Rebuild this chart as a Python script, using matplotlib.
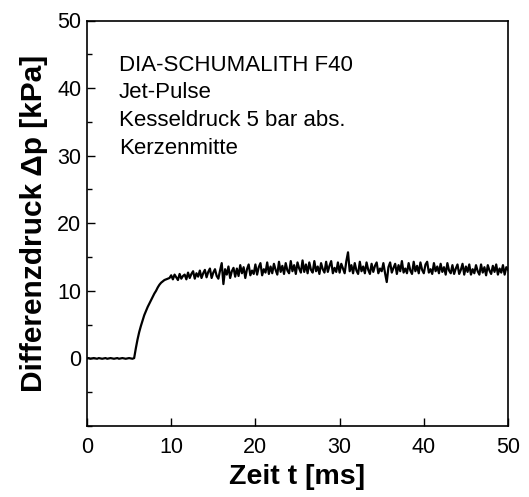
import numpy as np
import matplotlib
matplotlib.use("Agg")
import matplotlib.pyplot as plt
from matplotlib.ticker import MultipleLocator

plt.rcParams['font.family'] = ['Liberation Sans', 'DejaVu Sans']

sample_step_ms = 0.2
pressure_kpa = [
    # 0.0 - 5.6 ms baseline
    0.0, 0.05, -0.05, 0.0, 0.05, 0.0, -0.05, 0.05, 0.0, -0.05,
    0.0, 0.05, -0.05, 0.0, 0.05, 0.0, -0.05, 0.0, 0.05, -0.05,
    0.0, 0.05, 0.0, -0.05, 0.0, 0.05, 0.0, -0.05, 0.05,
    # 5.8 - 9.8 ms rise
    1.5, 2.8, 3.9, 4.8, 5.6, 6.4, 7.0, 7.6, 8.1, 8.6,
    9.1, 9.6, 10.0, 10.5, 10.9, 11.2, 11.4, 11.6, 11.7, 11.8, 11.9,
    # 10.0 - 50.0 ms noisy plateau
    12.3, 11.7, 12.4, 12.0, 11.6, 12.5, 11.8, 12.2, 12.4, 11.7,
    12.7, 11.9, 12.5, 12.9, 11.8, 12.6, 12.1, 13.0, 11.9, 12.6,
    13.1, 12.0, 12.8, 13.3, 11.9, 12.7, 13.2, 12.2, 11.8, 13.0,
    14.1, 11.0, 13.2, 12.4, 13.6, 11.9, 12.9, 13.4, 12.1, 13.3,
    12.2, 13.8, 12.6, 13.5, 11.9, 13.2, 13.9, 12.3, 13.0, 12.5,
    13.9, 12.4, 13.5, 14.1, 12.3, 13.2, 12.7, 14.2, 12.5, 13.6,
    12.6, 14.0, 13.1, 12.4, 14.3, 12.8, 13.7, 12.5, 14.1, 13.0,
    12.6, 14.4, 12.9, 13.8, 12.5, 14.2, 13.3, 12.7, 14.5, 12.8,
    13.9, 12.6, 14.2, 13.1, 12.7, 14.4, 12.9, 13.6, 12.5, 14.1,
    13.2, 12.7, 14.3, 12.8, 13.7, 14.4, 12.6, 13.4, 12.8, 14.2,
    12.7, 14.0, 13.3, 12.6, 14.4, 15.7, 12.9, 13.8, 12.6, 14.1,
    13.0, 12.5, 14.3, 12.9, 13.6, 12.6, 14.2, 13.1, 12.5, 14.0,
    12.8, 13.7, 14.2, 12.6, 13.3, 12.9, 14.1, 12.6, 11.3, 13.5,
    14.2, 12.7, 13.4, 14.0, 12.5, 13.8, 12.9, 14.4, 12.7, 13.3,
    12.6, 14.1, 13.0, 12.5, 14.3, 12.9, 13.7, 12.6, 14.2, 13.1,
    12.6, 13.9, 14.3, 12.7, 13.2, 12.5, 14.1, 12.9, 13.6, 12.6,
    14.0, 12.8, 13.5, 12.4, 14.1, 13.0, 12.6, 13.8, 12.5, 13.3,
    13.9, 12.5, 13.1, 14.0, 12.4, 13.6, 12.8, 13.9, 12.4, 13.2,
    12.6, 13.8, 12.9, 12.4, 13.9, 12.7, 13.5, 12.3, 13.8, 13.0,
    12.5, 13.7, 12.8, 13.9, 12.4, 13.3, 12.7, 13.8, 12.4, 13.5,
    13.1,
]
time_ms = np.arange(len(pressure_kpa)) * sample_step_ms

annotation_lines = ["DIA-SCHUMALITH F40", "Jet-Pulse",
                    "Kesseldruck 5 bar abs.", "Kerzenmitte"]
x_ticks = [0, 10, 20, 30, 40, 50]
y_ticks = [0, 10, 20, 30, 40, 50]

fig = plt.figure(figsize=(5.29, 4.97), dpi=100)
ax = fig.add_axes([87/529, 1 - 426/497, 421/529, (426 - 20.5)/497])
ax.plot(time_ms, pressure_kpa, color='black', lw=1.6)

ax.set_xlim(0, 50)
ax.set_ylim(-10, 50)
ax.set_xticks(x_ticks)
ax.set_yticks(y_ticks)
ax.yaxis.set_minor_locator(MultipleLocator(5))
ax.tick_params(axis='both', which='major', direction='in', length=6, width=1,
               labelsize=15.5)
ax.tick_params(axis='x', which='major', pad=8)
ax.tick_params(axis='y', which='major', pad=4)
ax.tick_params(axis='y', which='minor', direction='in', length=3.5, width=1)
for s in ax.spines.values():
    s.set_linewidth(1.2)

ax.set_xlabel("Zeit t [ms]", fontsize=20.5, fontweight='bold', labelpad=4)
ax.set_ylabel("Differenzdruck Δp [kPa]", fontsize=21.5, fontweight='bold', labelpad=7)

for i, line in enumerate(annotation_lines):
    ax.text(0.076, 0.876 - i * 0.0683, line, transform=ax.transAxes,
            fontsize=16, va='baseline', ha='left')

fig.savefig("out.png", dpi=100)
